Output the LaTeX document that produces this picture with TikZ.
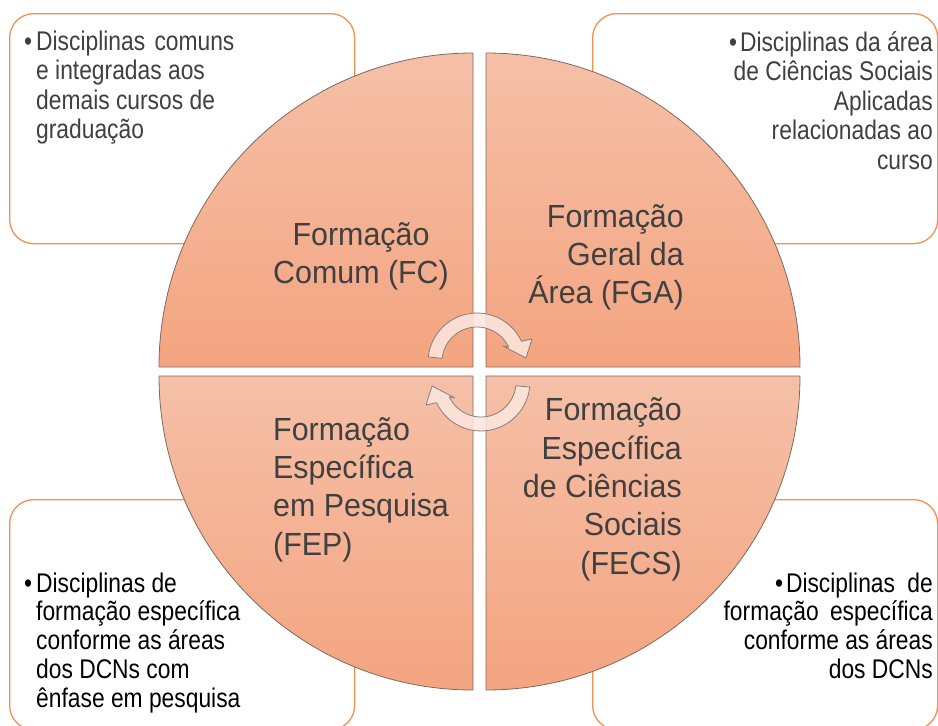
\documentclass[tikz,border=0pt]{standalone}
\usepackage{fontspec}
\setmainfont{Liberation Sans}
\newfontfamily\qfont[FakeStretch=0.95]{Liberation Sans}
\newfontfamily\bxfont[FakeStretch=0.845]{Liberation Sans}
\definecolor{boxline}{RGB}{240,146,80}
\definecolor{qtop}{RGB}{245,192,168}
\definecolor{qbot}{RGB}{244,164,128}
\definecolor{qline}{RGB}{125,105,95}
\definecolor{qtext}{RGB}{64,64,64}
\definecolor{arrowfill}{RGB}{251,230,222}
\definecolor{arrowline}{RGB}{140,125,118}
\begin{document}
\begin{tikzpicture}[x=1pt,y=-1pt,
  infobox/.style={draw=boxline, line width=1.3pt, fill=white, rounded corners=24pt,
    minimum width=345pt, minimum height=230pt, anchor=north west, inner sep=0pt},
  quad/.style={top color=qtop, bottom color=qbot, draw=qline, line width=0.8pt},
  qlabel/.style={font=\qfont\fontsize{32}{38.3}\selectfont, text=qtext, inner sep=0pt},
  blabel/.style={font=\bxfont\fontsize{27}{29.5}\selectfont, inner sep=0pt},
  blabelb/.style={font=\bxfont\fontsize{27}{28.8}\selectfont, inner sep=0pt},
  cyc/.style={fill=arrowfill, fill opacity=0.88, draw=arrowline, line width=0.8pt, line join=round}
]
\useasboundingbox (0,0) rectangle (938,726);

% corner boxes
\node[infobox] (boxTL) at (9,13) {};
\node[infobox] (boxTR) at (592,13) {};
\node[infobox] (boxBL) at (9,499) {};
\node[infobox] (boxBR) at (592,499) {};

% quadrants
\draw[quad] (473,367) -- (159,367) arc[start angle=180, end angle=270, radius=314] -- cycle;
\draw[quad] (486,367) -- (486,53) arc[start angle=270, end angle=360, radius=314] -- cycle;
\draw[quad] (473,376) -- (473,690) arc[start angle=90, end angle=180, radius=314] -- cycle;
\draw[quad] (486,376) -- (800,376) arc[start angle=0, end angle=90, radius=314] -- cycle;

% quadrant labels (anchor = baseline of the last line)
\node[qlabel, align=center, anchor=base] (fc) at (361,283.3) {Formação\\Comum (FC)};
\node[qlabel, align=right, anchor=base east] (fga) at (684,303.6) {Formação\\Geral da\\Área (FGA)};
\node[qlabel, align=left, anchor=base west] (fep) at (273,555) {Formação\\Específica\\em Pesquisa\\(FEP)};
\node[qlabel, align=right, anchor=base east] (fecs) at (682,574) {Formação\\Específica\hspace*{9pt}\\de Ciências\\Sociais\\(FECS)};

% box texts (anchor = baseline of the last line)
\node[blabel, text=qtext, align=left, anchor=base west] (tlt) at (36,138.5)
  {\llap{•\hspace{4pt}}Disciplinas\hspace{3pt} comuns\\e integradas aos\\demais cursos de\\graduação};
\node[blabel, text=qtext, align=right, anchor=base east] (trt) at (933,169)
  {•\hspace{3pt}Disciplinas da área\\de Ciências Sociais\\Aplicadas\\relacionadas ao\\curso};
\node[blabelb, text=black, align=left, anchor=base west] (blt) at (36,707.2)
  {\llap{•\hspace{4pt}}Disciplinas de\\formação específica\\conforme as áreas\\dos DCNs com\\ênfase em pesquisa};
\node[blabelb, text=black, align=right, anchor=base east] (brt) at (933,678.4)
  {•\hspace{3pt}Disciplinas\hspace{6pt} de\\formação\hspace{5pt} específica\\conforme as áreas\hspace*{18pt}\\dos DCNs};

% circular arrows
\draw[cyc] (442.2,358.3) -- (428.3,356.9) arc[start angle=186, end angle=335, radius=49]
  -- (532,339) -- (526,358) -- (503,346) -- (508.7,347.2)
  arc[start angle=335, end angle=186, radius=35] -- cycle;
\draw[cyc, rotate around={180:(479,372)}] (442.2,358.3) -- (428.3,356.9) arc[start angle=186, end angle=335, radius=49]
  -- (532,339) -- (526,358) -- (503,346) -- (508.7,347.2)
  arc[start angle=335, end angle=186, radius=35] -- cycle;
\end{tikzpicture}
\end{document}
